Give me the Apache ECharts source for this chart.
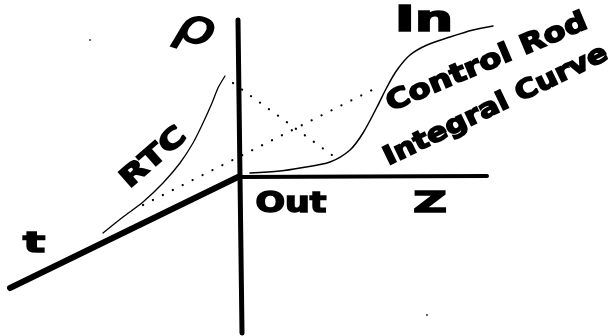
<!DOCTYPE html>
<html>
<head>
<meta charset="utf-8">
<style>
  html, body { margin: 0; padding: 0; background: #fff; }
  #chart { width: 608px; height: 336px; }
</style>
<script src="https://cdn.jsdelivr.net/npm/echarts@6/dist/echarts.min.js"></script>
</head>
<body>
<div id="chart"></div>
<script>
// diagram coordinates: x to the right, y downward (same frame as the picture)
const rhoAxis = [[238, 20], [242, 333]];
const zAxis = [[238, 177], [487, 176]];
const tAxis = [[238, 177], [10, 288]];

// reactivity temperature coefficient curve
const rtcCurve = [[103, 233], [123, 217], [143, 202], [163, 183], [180, 163], [193, 143],
  [203, 123], [212, 103], [218, 88], [225, 76]];

// control rod integral (S-shaped) curve
const integralCurve = [[250, 173], [280, 171], [300, 168], [330, 162], [350, 150], [363, 133],
  [377, 107], [387, 87], [397, 70], [410, 55], [427, 45], [450, 37], [473, 30], [493, 26]];

// dotted projection lines
const dotsDown = [[233, 83], [332, 155]];
const dotsUp = [[143, 205], [378, 87]];

// stray specks from the scan
const specks = [[90, 40], [427, 315]];

const chart = echarts.init(document.getElementById('chart'));

const solid = (data, width) => ({
  type: 'line', data, smooth: 0.3, symbol: 'none', silent: true,
  lineStyle: { color: '#000', width, cap: 'round' }
});
const dotted = (data) => ({
  type: 'line', data, symbol: 'none', silent: true,
  lineStyle: { color: '#000', width: 2.2, type: [0.1, 11], cap: 'round' }
});

const label = (text, x, y, size, rot, sx, weight) => ({
  type: 'text', x, y, rotation: rot, scaleX: sx,
  style: {
    text, font: (weight || 'bold') + ' ' + size + 'px "DejaVu Sans"',
    fill: '#000', stroke: '#000', lineWidth: 1.6,
    align: 'center', verticalAlign: 'middle'
  }
});

chart.setOption({
  animation: false,
  backgroundColor: '#fff',
  grid: { left: 0, right: 0, top: 0, bottom: 0 },
  xAxis: { type: 'value', min: 0, max: 608, show: false },
  yAxis: { type: 'value', min: 0, max: 336, inverse: true, show: false },
  series: [
    solid(rhoAxis, 5),
    solid(zAxis, 4),
    solid(tAxis, 6),
    solid(rtcCurve, 1.3),
    solid(integralCurve, 1.5),
    dotted(dotsDown),
    dotted(dotsUp),
    {
      type: 'scatter', data: specks, symbolSize: 2, silent: true,
      itemStyle: { color: '#000' }
    }
  ],
  graphic: [
    label('ρ', 195, 30, 48, -0.3, 1.25, 'italic'),
    label('In', 424, 22, 36, 0, 1.5),
    label('Out', 291, 204, 29, 0, 1.2),
    label('Z', 430, 204, 29, 0, 1.6),
    label('t', 34, 244, 29, 0, 1.6),
    label('RTC', 154, 158, 27, 0.72, 1.35),
    label('Control Rod', 487, 63, 27, 0.4, 1.2),
    label('Integral Curve', 496, 106, 26, 0.45, 1.17)
  ]
});
</script>
</body>
</html>
